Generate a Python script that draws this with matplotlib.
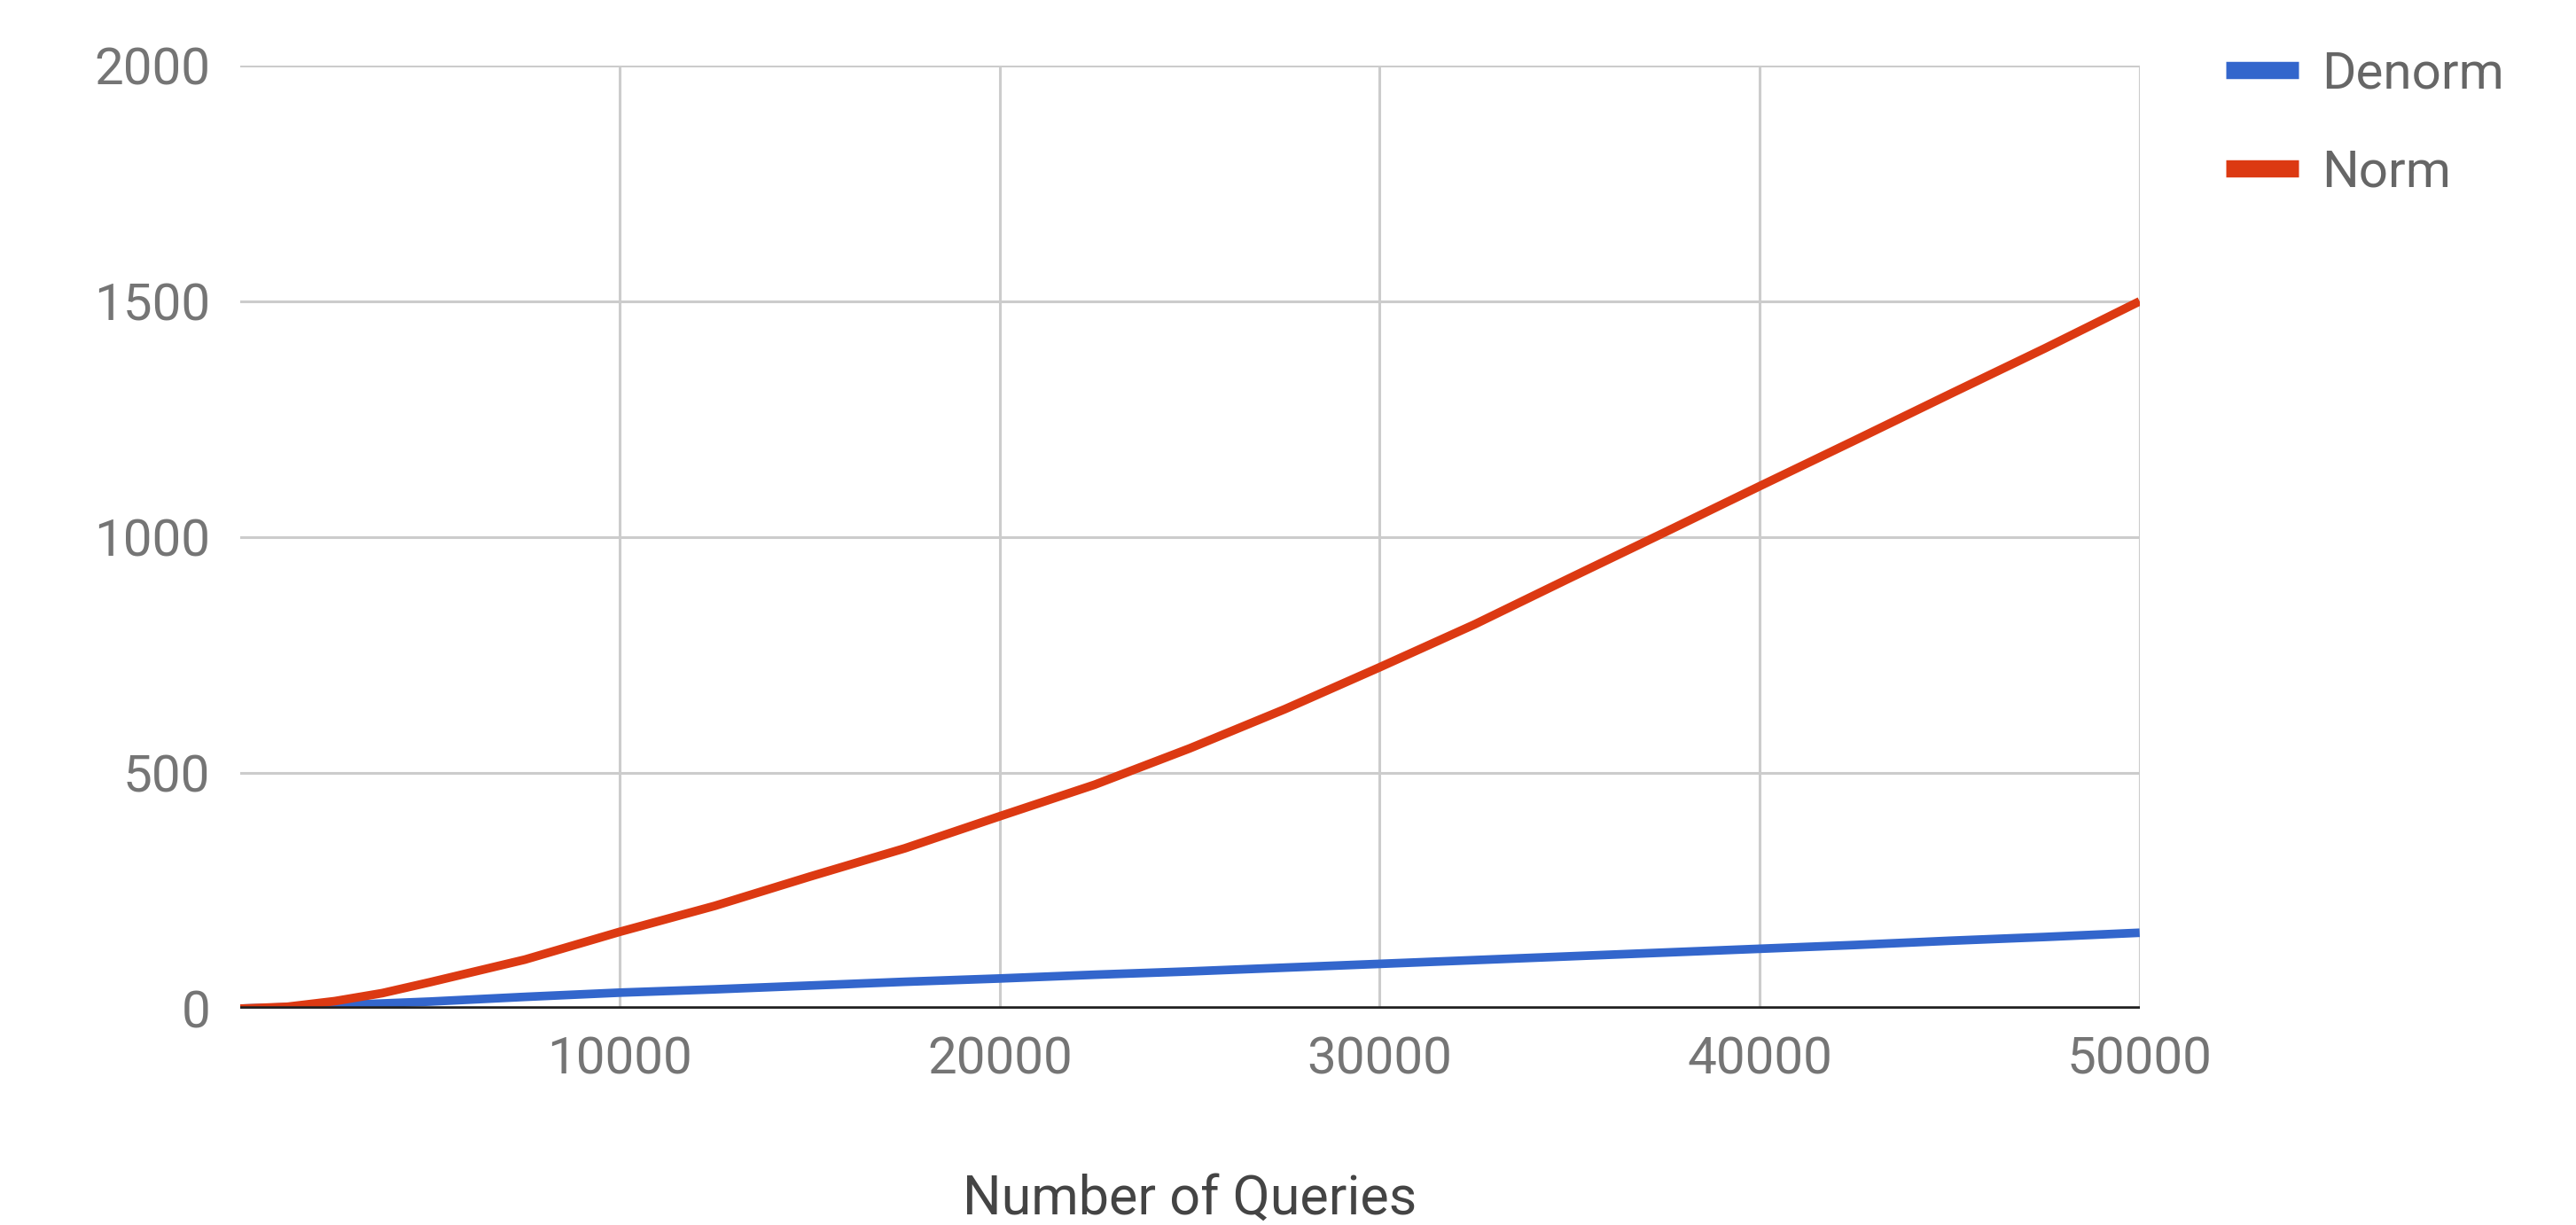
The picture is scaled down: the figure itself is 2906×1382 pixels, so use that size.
import numpy as np
import matplotlib.pyplot as plt
from matplotlib.lines import Line2D

plt.rcParams['font.family'] = ['Roboto', 'DejaVu Sans']

# Tiempo acumulado por número de consultas
queries = [0, 1250, 2500, 3750, 5000, 7500, 10000, 12500, 15000, 17500, 20000,
           22500, 25000, 27500, 30000, 32500, 35000, 37500, 40000, 42500,
           45000, 47500, 50000]
denorm = [0, 3, 7, 11, 15, 25, 34, 41, 49, 57, 64, 72, 79, 87, 95, 103,
          111, 119, 127, 135, 144, 152, 161]
norm = [0, 4, 16, 33, 56, 104, 163, 218, 280, 340, 408, 475, 552, 635, 724,
        815, 913, 1010, 1108, 1205, 1303, 1400, 1500]

labels = ['Denorm', 'Norm']
colors = ['#3366cc', '#dc3912']

fig = plt.figure(figsize=(29.06, 13.82), dpi=100)
ax = fig.add_axes([0.0931, 0.1766, 0.7375, 0.7699])

ax.plot(queries, denorm, color=colors[0], lw=7, solid_capstyle='butt',
        solid_joinstyle='round', zorder=3)
ax.plot(queries, norm, color=colors[1], lw=7, solid_capstyle='butt',
        solid_joinstyle='round', zorder=4)

ax.set_xlim(0, 50000)
ax.set_ylim(0, 2000)
ax.set_xticks([10000, 20000, 30000, 40000, 50000])
ax.set_yticks([0, 500, 1000, 1500, 2000])
ax.grid(True, color='#cccccc', lw=2.2)
ax.set_axisbelow(True)
ax.axvline(50000, color='#cccccc', lw=2.2, zorder=1)
ax.axhline(0, color='#222222', lw=4, zorder=5)

for s in ax.spines.values():
    s.set_visible(False)
ax.tick_params(length=0, labelsize=42, labelcolor='#757575')
ax.tick_params(axis='y', pad=24)
ax.tick_params(axis='x', pad=22)

ax.set_xlabel('Number of Queries', fontsize=44, color='#444444', labelpad=72)

handles = [Line2D([], [], color=c, lw=14, solid_capstyle='butt') for c in colors]
fig.legend(handles, labels, loc='upper left', bbox_to_anchor=(0.846, 0.997),
           frameon=False, fontsize=42, labelcolor='#666666',
           handlelength=1.4, handletextpad=0.45, labelspacing=0.95)

fig.savefig('out.png', dpi=100, facecolor='white')
